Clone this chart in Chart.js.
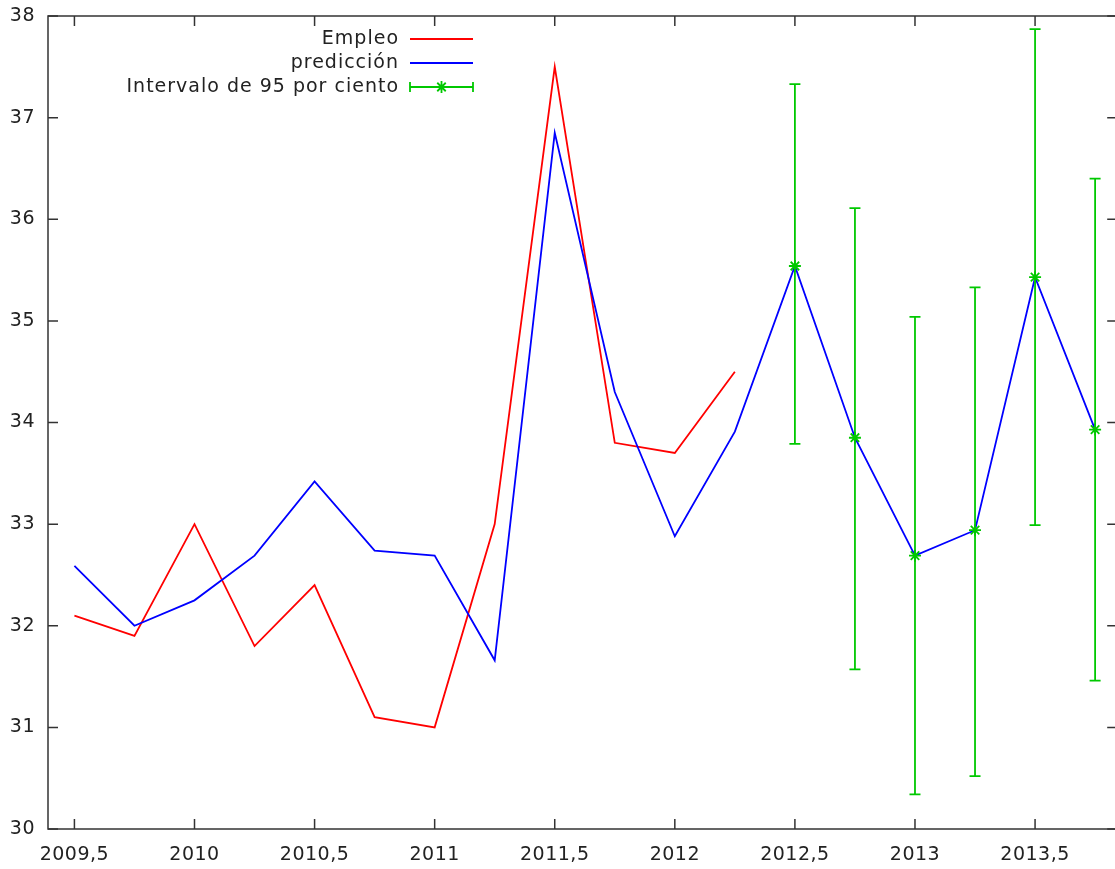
<!DOCTYPE html>
<html>
<head>
<meta charset="utf-8">
<script src="https://cdn.jsdelivr.net/npm/chart.js@4"></script>
<style>
  html, body { margin: 0; padding: 0; background: #fff; overflow: hidden; }
  canvas { display: block; }
</style>
</head>
<body>
<canvas id="grafico" width="1125" height="869"></canvas>
<script>
// observed quarters
var fechas = [2009.5, 2009.75, 2010, 2010.25, 2010.5, 2010.75, 2011, 2011.25, 2011.5, 2011.75, 2012, 2012.25];
var empleo = [32.1, 31.9, 33.0, 31.8, 32.4, 31.1, 31.0, 33.0, 37.5, 33.8, 33.7, 34.5];

// fitted + forecast
var fechasPred = [2009.5, 2009.75, 2010, 2010.25, 2010.5, 2010.75, 2011, 2011.25, 2011.5, 2011.75, 2012, 2012.25,
                  2012.5, 2012.75, 2013, 2013.25, 2013.5, 2013.75];
var prediccion = [32.59, 32.0, 32.25, 32.69, 33.42, 32.74, 32.69, 31.66, 36.85, 34.3, 32.88, 33.91,
                  35.54, 33.85, 32.69, 32.94, 35.43, 33.93];

// 95% interval for the forecast quarters
var fechasInt = [2012.5, 2012.75, 2013, 2013.25, 2013.5, 2013.75];
var intCentro = [35.54, 33.85, 32.69, 32.94, 35.43, 33.93];
var intBajo   = [33.79, 31.57, 30.34, 30.52, 32.99, 31.46];
var intAlto   = [37.33, 36.11, 35.04, 35.33, 37.87, 36.40];

var ticksX = [2009.5, 2010, 2010.5, 2011, 2011.5, 2012, 2012.5, 2013, 2013.5];
var ticksY = [30, 31, 32, 33, 34, 35, 36, 37, 38];

var rojo = '#ff0000', azul = '#0000ff', verde = '#00c800', ejes = '#333333', texto = '#222222';
var fuente = { family: 'DejaVu Sans', size: 19 };

function pares(xs, ys) {
    return xs.map(function (x, i) { return { x: x, y: ys[i] }; });
}

var barras = [];
fechasInt.forEach(function (x, i) {
    barras.push({ x: x, y: intBajo[i] });
    barras.push({ x: x, y: intAlto[i] });
    barras.push({ x: x, y: null });
});

// the original font is a bit wider than DejaVu
var espaciado = {
    id: 'espaciado',
    beforeDraw: function (chart) { chart.ctx.letterSpacing = '0.5px'; }
};

// gnuplot style frame with inward ticks on all four sides
var marco = {
    id: 'marco',
    afterDatasetsDraw: function (chart) {
        var ctx = chart.ctx, a = chart.chartArea, sx = chart.scales.x, sy = chart.scales.y;
        ctx.save();
        ctx.strokeStyle = ejes;
        ctx.lineWidth = 1.5;
        ctx.strokeRect(a.left, a.top, a.right - a.left, a.bottom - a.top);
        ctx.beginPath();
        ticksX.forEach(function (v) {
            var px = sx.getPixelForValue(v);
            ctx.moveTo(px, a.bottom); ctx.lineTo(px, a.bottom - 10);
            ctx.moveTo(px, a.top); ctx.lineTo(px, a.top + 10);
        });
        ticksY.forEach(function (v) {
            var py = sy.getPixelForValue(v);
            ctx.moveTo(a.left, py); ctx.lineTo(a.left + 10, py);
            ctx.moveTo(a.right, py); ctx.lineTo(a.right - 10, py);
        });
        ctx.stroke();
        ctx.restore();
    }
};

// key in the top left, text right aligned with the sample after it
var leyenda = {
    id: 'leyenda',
    afterDraw: function (chart) {
        var ctx = chart.ctx;
        var xt = 398, x0 = 410, x1 = 473, y = 39;
        ctx.save();
        ctx.font = fuente.size + 'px ' + fuente.family;
        ctx.letterSpacing = '1px';
        ctx.textAlign = 'right';
        ctx.textBaseline = 'middle';
        ctx.lineWidth = 1.8;
        chart.data.datasets.forEach(function (ds) {
            if (!ds.label) return;
            ctx.fillStyle = texto;
            ctx.fillText(ds.label, xt + 1, y);
            ctx.strokeStyle = ds.borderColor;
            ctx.beginPath();
            ctx.moveTo(x0, y); ctx.lineTo(x1, y);
            if (ds.pointStyle === 'star') {
                ctx.moveTo(x0, y - 5); ctx.lineTo(x0, y + 5);
                ctx.moveTo(x1, y - 5); ctx.lineTo(x1, y + 5);
            }
            ctx.stroke();
            if (ds.pointStyle === 'star') {
                Chart.helpers.drawPoint(ctx, { pointStyle: 'star', radius: 6, borderWidth: 1.8 }, (x0 + x1) / 2, y);
            }
            y += 24;
        });
        ctx.restore();
    }
};

new Chart(document.getElementById('grafico'), {
    type: 'line',
    data: {
        datasets: [
            {
                label: 'Empleo',
                data: pares(fechas, empleo),
                borderColor: rojo,
                borderWidth: 1.8,
                pointRadius: 0,
                order: 3
            },
            {
                label: 'predicción',
                data: pares(fechasPred, prediccion),
                borderColor: azul,
                borderWidth: 1.8,
                pointRadius: 0,
                order: 2
            },
            {
                label: 'Intervalo de 95 por ciento',
                data: pares(fechasInt, intCentro),
                showLine: false,
                borderColor: verde,
                pointStyle: 'star',
                pointRadius: 6,
                pointBorderWidth: 1.8,
                pointBorderColor: verde,
                order: 0
            },
            {
                label: '',
                data: barras,
                borderColor: verde,
                borderWidth: 1.8,
                spanGaps: false,
                pointStyle: 'line',
                pointRadius: 5.5,
                pointBorderWidth: 1.8,
                pointBorderColor: verde,
                order: 1
            }
        ]
    },
    options: {
        responsive: false,
        animation: false,
        events: [],
        layout: { padding: { top: 16, right: 5, left: 0, bottom: 0 } },
        plugins: {
            legend: { display: false },
            tooltip: { enabled: false }
        },
        scales: {
            x: {
                type: 'linear',
                min: 2009.39,
                max: 2013.842,
                afterFit: function (s) { s.height = 40; s.paddingLeft = 0; s.paddingRight = 0; },
                afterBuildTicks: function (s) { s.ticks = ticksX.map(function (v) { return { value: v }; }); },
                grid: { display: false, drawTicks: false },
                border: { display: false },
                ticks: {
                    padding: 15,
                    color: texto,
                    font: fuente,
                    maxRotation: 0,
                    autoSkip: false,
                    callback: function (v) { return String(v).replace('.', ','); }
                }
            },
            y: {
                type: 'linear',
                min: 30,
                max: 38,
                afterFit: function (s) { s.width = 48; s.paddingTop = 0; s.paddingBottom = 0; },
                afterBuildTicks: function (s) { s.ticks = ticksY.map(function (v) { return { value: v }; }); },
                grid: { display: false, drawTicks: false },
                border: { display: false },
                ticks: {
                    padding: 13,
                    color: texto,
                    font: fuente
                }
            }
        }
    },
    plugins: [espaciado, marco, leyenda]
});
</script>
</body>
</html>
